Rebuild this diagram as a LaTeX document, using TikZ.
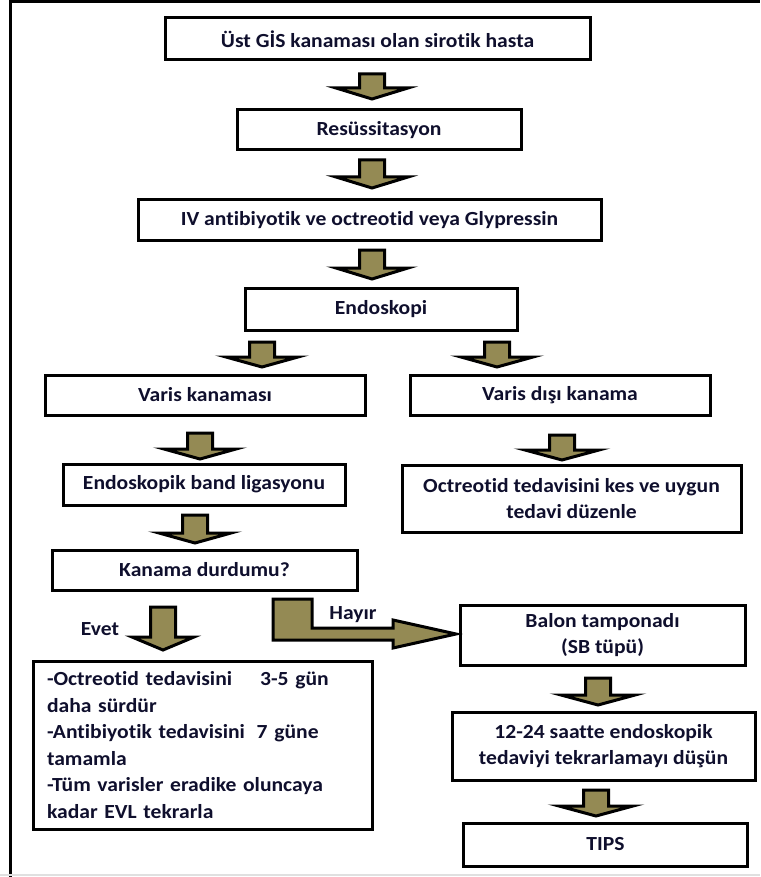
\documentclass[tikz,border=0pt]{standalone}
\usepackage{fontspec}
\setmainfont{Carlito}[FakeStretch=1.08, RawFeature={-liga;-clig;-dlig}]
\definecolor{olivefill}{RGB}{148,138,84}
\definecolor{txtnavy}{RGB}{15,15,45}
\newcommand\bdown[5]{\draw[barrow] (#1-12.5,#2) -- (#1+12.5,#2) -- (#1+12.5,#3-#4) -- (#1+#5,#3-#4) -- (#1,#3) -- (#1-#5,#3-#4) -- (#1-12.5,#3-#4) -- cycle;}
\begin{document}
\begin{tikzpicture}[x=1pt,y=-1pt,
  box/.style={draw=black, line width=3pt, fill=white, text=txtnavy,
    font=\bfseries\fontsize{20}{26.6}\selectfont, inner sep=0pt, align=center},
  barrow/.style={draw=black, fill=olivefill, line width=3pt, line join=miter},
  lbl/.style={text=txtnavy, font=\bfseries\fontsize{20}{26.6}\selectfont, anchor=base, inner sep=0pt}]
\useasboundingbox (0,0) rectangle (760,877);
% frame
\draw[line width=3pt] (10.5,877) -- (10.5,1.5) -- (760,1.5);
\draw[line width=1.5pt, black!12] (0,875) -- (760,875);
% boxes
\node[box, minimum width=425pt, minimum height=42pt] (b1) at (377.5,39) {Üst GİS kanaması olan sirotik hasta};
\node[box, minimum width=284pt, minimum height=40pt] (b2) at (379,130) {Resüssitasyon};
\node[box, minimum width=463pt, minimum height=40pt] (b3) at (369.5,220) {IV antibiyotik ve octreotid veya Glypressin};
\node[box, minimum width=272pt, minimum height=42pt] (b4) at (381,309) {Endoskopi};
\node[box, minimum width=320pt, minimum height=40pt] (b5) at (205,395) {Varis kanaması};
\node[box, minimum width=300pt, minimum height=40pt] (b6) at (560,395) {Varis dışı kanama};
\node[box, minimum width=282pt, minimum height=41pt] (b7) at (204,484.5) {Endoskopik band ligasyonu};
\node[box, minimum width=339pt, minimum height=67pt] (b8) at (571.5,498.5) {Octreotid tedavisini kes ve uygun\\tedavi düzenle};
\node[box, minimum width=305pt, minimum height=40pt] (b9) at (204.5,570) {Kanama durdumu?};
\node[box, minimum width=285pt, minimum height=60pt] (b10) at (602.5,635) {Balon tamponadı\\(SB tüpü)};
\node[box, minimum width=303pt, minimum height=68pt] (b11) at (603.5,746) {12-24 saatte endoskopik\\tedaviyi tekrarlamayı düşün};
\node[box, minimum width=284pt, minimum height=43pt] (b12) at (605.5,844.5) {TIPS};
\node[box, minimum width=339pt, minimum height=168pt, align=left, text width=311pt, inner xsep=14pt] (b13) at (202.5,745)
  {-Octreotid tedavisini\hspace{28pt}3-5 gün\\daha sürdür\\-Antibiyotik tedavisini\hspace{5pt} 7 güne\\tamamla\\-Tüm varisler eradike oluncaya\\kadar EVL tekrarla};
% block arrows
\bdown{372}{74}{99}{11}{36}
\bdown{372}{160}{188}{11}{36}
\bdown{372}{250}{279}{11}{36}
\bdown{262}{342}{367}{10}{36}
\bdown{497}{342}{367}{10}{36}
\bdown{200}{433}{459}{10}{36}
\bdown{562}{435}{460}{10}{37}
\bdown{195}{515}{543}{10}{36}
\bdown{163}{607}{650}{13}{31}
\bdown{598}{678}{705}{10}{37}
\bdown{596}{790}{816}{10}{37}
% Hayir bent arrow
\draw[barrow] (273,599) -- (312,599) -- (312,628) -- (393,628) -- (393,620) -- (456,634) -- (393,648) -- (393,640) -- (273,640) -- cycle;
\node[lbl] (evet) at (100,635) {Evet};
\node[lbl] (hayir) at (353,619) {Hayır};
\end{tikzpicture}
\end{document}
